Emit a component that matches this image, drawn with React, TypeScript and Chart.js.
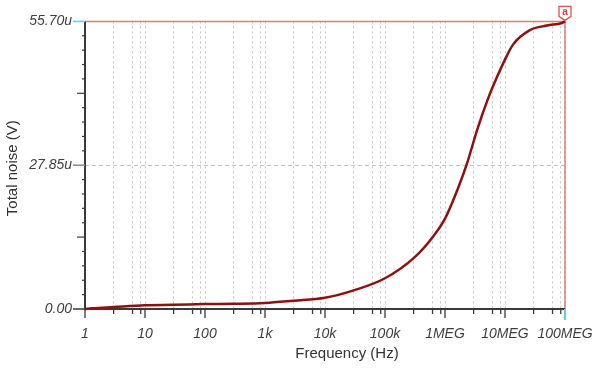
import React, { useEffect, useRef } from "react";
import { Chart, registerables } from "chart.js";

Chart.register(...registerables);

// ---- data ----
const frequencies = [
  1, 1.3, 3, 10, 30, 100, 300, 1000, 3000, 10000, 31000, 100000, 310000,
  650000, 1000000, 1650000, 2300000, 3500000, 5200000, 7600000, 10000000,
  13600000, 26000000, 50000000, 89000000, 100000000,
];
const noiseMicroV = [
  0, 0.13, 0.38, 0.72, 0.8, 0.95, 1.0, 1.15, 1.6, 2.17, 3.65, 5.95, 10.0,
  14.2, 17.5, 23.4, 28.0, 35.0, 40.7, 45.3, 48.3, 51.2, 54.0, 54.9, 55.4, 55.7,
];
const xDecades = [1, 10, 100, 1e3, 1e4, 1e5, 1e6, 1e7, 1e8];
const xTickLabels = ["1", "10", "100", "1k", "10k", "100k", "1MEG", "10MEG", "100MEG"];
const xMinorSteps = [3, 6.2, 8.5];
const yMajorValues = [0, 27.85, 55.7];
const yTickLabels = ["0.00", "27.85u", "55.70u"];
const yMinorPerMajor = 10;
const markerLabel = "a";
const xTitle = "Frequency (Hz)";
const yTitle = "Total noise (V)";

const FONT = "'Liberation Sans', Arial, sans-serif";

function buildXTicks() {
  const out: number[] = [];
  for (let i = 0; i < xDecades.length; i++) {
    out.push(xDecades[i]);
    if (i < xDecades.length - 1) xMinorSteps.forEach((m) => out.push(xDecades[i] * m));
  }
  return out.sort((a, b) => a - b);
}
function buildYTicks() {
  const out: number[] = [];
  const yMax = yMajorValues[yMajorValues.length - 1];
  const n = (yMajorValues.length - 1) * yMinorPerMajor;
  for (let i = 0; i <= n; i++) out.push((yMax * i) / n);
  return out;
}

const decorPlugin = {
  id: "decor",
  beforeDatasetsDraw(chart: any) {
    const { ctx, chartArea } = chart;
    const { left, right, top, bottom } = chartArea;
    const xs = chart.scales.x;
    const ys = chart.scales.y;
    ctx.save();
    // red frame top/right
    ctx.strokeStyle = "#e07b7b";
    ctx.lineWidth = 1.5;
    ctx.beginPath();
    ctx.moveTo(left, top);
    ctx.lineTo(right, top);
    ctx.lineTo(right, bottom);
    ctx.stroke();
    // axes
    ctx.strokeStyle = "#3a3a3a";
    ctx.lineWidth = 2;
    ctx.beginPath();
    ctx.moveTo(left, top);
    ctx.lineTo(left, bottom);
    ctx.lineTo(right, bottom);
    ctx.stroke();
    // y ticks
    const yt = buildYTicks();
    const n = yt.length - 1;
    yt.forEach((v, i) => {
      const y = ys.getPixelForValue(v);
      let len = 3;
      if (i % yMinorPerMajor === 0) len = 12;
      else if (i % (yMinorPerMajor / 2) === 0) len = 8;
      ctx.strokeStyle = i === n ? "#4fd8e4" : i === yMinorPerMajor ? "#8a8a8a" : "#3a3a3a";
      ctx.lineWidth = i % yMinorPerMajor === 0 ? 1.5 : 1.2;
      ctx.beginPath();
      ctx.moveTo(left - len, y);
      ctx.lineTo(left, y);
      ctx.stroke();
    });
    // x ticks
    buildXTicks().forEach((v) => {
      const x = xs.getPixelForValue(v);
      const major = xDecades.includes(v);
      const len = major ? 9 : 5;
      const last = v === xDecades[xDecades.length - 1];
      ctx.strokeStyle = last ? "#4fd8e4" : "#3a3a3a";
      ctx.lineWidth = last ? 2 : 1.3;
      ctx.beginPath();
      ctx.moveTo(x, bottom);
      ctx.lineTo(x, bottom + (last ? 11 : len));
      ctx.stroke();
    });
    // titles
    ctx.fillStyle = "#333333";
    ctx.font = `15px ${FONT}`;
    ctx.textAlign = "center";
    ctx.textBaseline = "middle";
    ctx.fillText(xTitle, (left + right) / 2 + 22, 354);
    ctx.save();
    ctx.translate(13, (top + bottom) / 2 + 3);
    ctx.rotate(-Math.PI / 2);
    ctx.fillText(yTitle, 0, 0);
    ctx.restore();
    ctx.restore();
  },
  afterDatasetsDraw(chart: any) {
    const { ctx, chartArea } = chart;
    const { right, top } = chartArea;
    ctx.save();
    // marker tag
    const x0 = right - 6, x1 = right + 6, y0 = top - 15, y1 = top - 5;
    ctx.beginPath();
    ctx.moveTo(x0, y0);
    ctx.lineTo(x1, y0);
    ctx.lineTo(x1, y1);
    ctx.lineTo(right, top - 1);
    ctx.lineTo(x0, y1);
    ctx.closePath();
    ctx.fillStyle = "#ffffff";
    ctx.fill();
    ctx.strokeStyle = "#e05050";
    ctx.lineWidth = 1.3;
    ctx.stroke();
    ctx.fillStyle = "#e03a3a";
    ctx.font = `bold 10px ${FONT}`;
    ctx.textAlign = "center";
    ctx.textBaseline = "middle";
    ctx.fillText(markerLabel, right, (y0 + y1) / 2 + 0.5);
    ctx.restore();
  },
};

export default function App() {
  const ref = useRef<HTMLCanvasElement | null>(null);
  useEffect(() => {
    if (!ref.current) return;
    const xTicks = buildXTicks();
    const yTicks = buildYTicks();
    const tickFont = { family: FONT, size: 14, style: "italic" as const, weight: "normal" as const };
    const chart = new Chart(ref.current, {
      type: "line",
      data: {
        datasets: [
          {
            data: frequencies.map((f, i) => ({ x: f, y: noiseMicroV[i] })),
            borderColor: "#8e1010",
            borderWidth: 2.5,
            pointRadius: 0,
            cubicInterpolationMode: "monotone",
            clip: false as any,
          },
        ],
      },
      plugins: [decorPlugin],
      options: {
        animation: false,
        responsive: false,
        events: [],
        layout: { padding: { left: 0, right: 49, top: 19, bottom: 0 } },
        plugins: { legend: { display: false }, tooltip: { enabled: false } },
        scales: {
          x: {
            type: "logarithmic",
            min: xDecades[0],
            max: xDecades[xDecades.length - 1],
            afterBuildTicks: (s: any) => {
              s.ticks = xTicks.map((v) => ({ value: v }));
            },
            afterFit: (s: any) => {
              s.height = 59;
            },
            border: { display: false, dash: [2, 3] },
            grid: { color: "#c4c4c4", lineWidth: 1, drawTicks: false },
            ticks: {
              autoSkip: false,
              maxRotation: 0,
              padding: 17,
              color: "#404040",
              font: tickFont,
              callback: (v: any) => {
                const i = xDecades.indexOf(Number(v));
                return i >= 0 ? xTickLabels[i] : "";
              },
            },
          },
          y: {
            type: "linear",
            min: yMajorValues[0],
            max: yMajorValues[yMajorValues.length - 1],
            afterBuildTicks: (s: any) => {
              s.ticks = yTicks.map((v) => ({ value: v }));
            },
            afterFit: (s: any) => {
              s.width = 85;
            },
            border: { display: false, dash: [4, 3] },
            grid: {
              drawTicks: false,
              lineWidth: 1,
              color: (c: any) => (c.index === yMinorPerMajor ? "#c4c4c4" : "rgba(0,0,0,0)"),
            },
            ticks: {
              autoSkip: false,
              padding: 13,
              color: "#404040",
              font: tickFont,
              callback: (_v: any, i: number) =>
                i % yMinorPerMajor === 0 ? yTickLabels[i / yMinorPerMajor] : "",
            },
          },
        },
      },
    });
    return () => chart.destroy();
  }, []);
  return (
    <div style={{ position: "fixed", left: 0, top: 0, width: 614, height: 368, background: "#fff" }}>
      <canvas ref={ref} width={614} height={368} style={{ width: 614, height: 368 }} />
    </div>
  );
}
